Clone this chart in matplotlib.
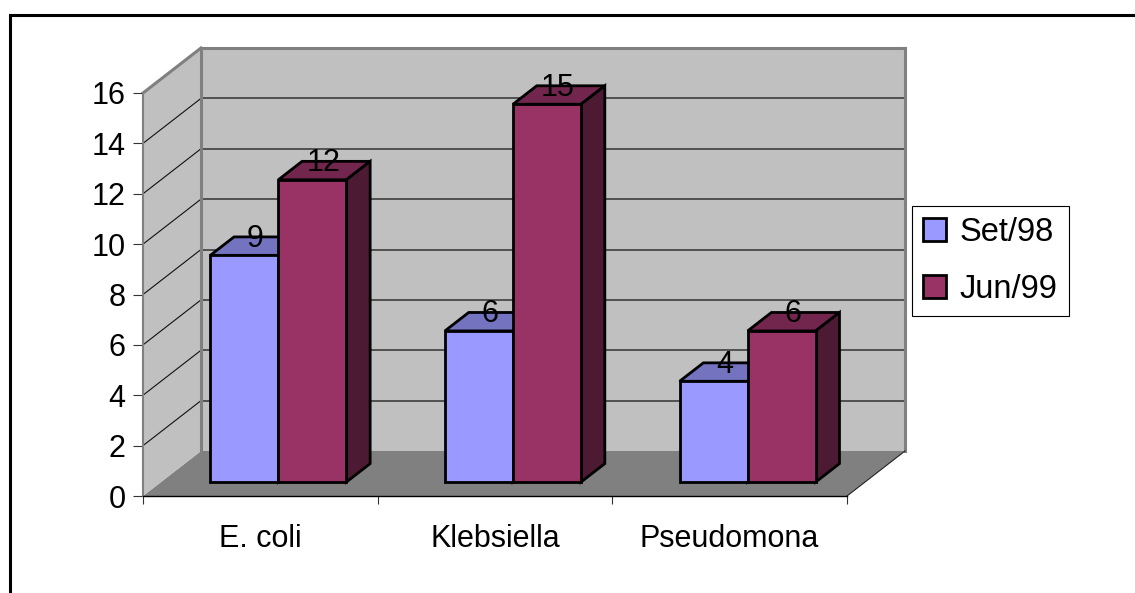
import matplotlib
matplotlib.use('Agg')
import matplotlib.pyplot as plt
from matplotlib.patches import Polygon, Patch
from matplotlib.lines import Line2D
from matplotlib.transforms import ScaledTranslation, IdentityTransform
import numpy as np

plt.rcParams['font.family'] = ['Liberation Sans', 'DejaVu Sans']

# ---- data ----
categories = ['E. coli', 'Klebsiella', 'Pseudomona']
series_names = ['Set/98', 'Jun/99']
set98 = [9, 6, 4]
jun99 = [12, 15, 6]
yticks = [0, 2, 4, 6, 8, 10, 12, 14, 16]

front_colors = ['#9999FF', '#993366']
top_colors = ['#7373BF', '#73264D']
side_colors = ['#4D4D80', '#4D1A33']

W, H = 1135, 593
DPI = 100
fig = plt.figure(figsize=(W / DPI, H / DPI), dpi=DPI)
fig.patch.set_facecolor('white')
ax = fig.add_axes([143 / W, 97 / H, 704 / W, 403 / H])
ax.set_xlim(-0.5, 2.5)
ax.set_ylim(0, 16)
ax.patch.set_visible(False)

DX, DY = 0.58, 0.45  # full depth offset (inches)
F0, F1 = 0.31, 0.72  # bar depth range
BW = 0.29            # bar width (category units)


def pt(x, y, f):
    p = ax.transData.transform((x, y))
    return (p[0] + DX * f * DPI, p[1] + DY * f * DPI)


def depth(f):
    return ax.transData + ScaledTranslation(DX * f, DY * f, fig.dpi_scale_trans)


def poly(points, fc, ec='none', lw=0, z=1):
    p = Polygon(points, closed=True, facecolor=fc, edgecolor=ec, linewidth=lw,
                transform=IdentityTransform(), zorder=z, clip_on=False,
                joinstyle='miter')
    ax.add_artist(p)
    return p


def line(p1, p2, color, lw, z=1):
    ax.add_artist(Line2D([p1[0], p2[0]], [p1[1], p2[1]], color=color, lw=lw,
                         transform=IdentityTransform(), zorder=z, clip_on=False,
                         solid_capstyle='projecting'))


x0, x1 = -0.5, 2.5
ymax = yticks[-1]

# floor, side wall, back wall
poly([pt(x0, 0, 0), pt(x1, 0, 0), pt(x1, 0, 1), pt(x0, 0, 1)], '#808080', z=0.1)
poly([pt(x0, 0, 0), pt(x0, 0, 1), pt(x0, ymax, 1), pt(x0, ymax, 0)], '#C0C0C0', z=0.1)
poly([pt(x0, 0, 1), pt(x1, 0, 1), pt(x1, ymax, 1), pt(x0, ymax, 1)], '#C0C0C0', z=0.1)

# gridlines
for v in yticks[1:-1]:
    line(pt(x0, v, 1), pt(x1, v, 1), '#333333', 1.1, z=0.3)
    line(pt(x0, v, 0), pt(x0, v, 1), '#111111', 0.8, z=0.3)

# wall edges
line(pt(x0, 0, 1), pt(x0, ymax, 1), '#808080', 2.2, z=0.4)
line(pt(x0, ymax, 1), pt(x1, ymax, 1), '#808080', 2.2, z=0.4)
line(pt(x1, ymax, 1), pt(x1, 0, 1), '#808080', 2.2, z=0.4)
line(pt(x0, ymax, 0), pt(x0, ymax, 1), '#808080', 2.2, z=0.4)
line(pt(x1, 0, 0), pt(x1, 0, 1), '#222222', 0.8, z=0.4)

# bars
for i in range(len(categories)):
    for j, vals in enumerate([set98, jun99]):
        v = vals[i]
        xl = i - BW + j * BW
        xr = xl + BW
        z = 2 + i * 0.1 + j * 0.05
        poly([pt(xl, v, F0), pt(xr, v, F0), pt(xr, v, F1), pt(xl, v, F1)],
             top_colors[j], 'black', 2.0, z)
        poly([pt(xr, 0, F0), pt(xr, 0, F1), pt(xr, v, F1), pt(xr, v, F0)],
             side_colors[j], 'black', 2.0, z)
        poly([pt(xl, 0, F0), pt(xr, 0, F0), pt(xr, v, F0), pt(xl, v, F0)],
             front_colors[j], 'black', 2.0, z)
        ax.text((xl + xr) / 2, v, str(v), transform=depth(0.5), ha='center',
                va='baseline', fontsize=22, color='black', zorder=5)

# axes
for s in ['top', 'right']:
    ax.spines[s].set_visible(False)
ax.spines['left'].set_color('#808080')
ax.spines['left'].set_linewidth(1.5)
ax.spines['bottom'].set_color('black')
ax.spines['bottom'].set_linewidth(1.0)
ax.set_yticks(yticks)
ax.set_yticklabels([str(t) for t in yticks])
ax.tick_params(axis='y', length=7.5, width=0.8, color='#333333', pad=5, labelsize=22)
ax.set_xticks(range(len(categories)))
ax.set_xticklabels(categories)
ax.set_xticks([x0 + k for k in range(len(categories) + 1)], minor=True)
ax.tick_params(axis='x', which='major', length=0, pad=20, labelsize=22)
ax.tick_params(axis='x', which='minor', length=6, width=0.8, color='#333333')

# legend
handles = [Patch(facecolor=c, edgecolor='black', linewidth=2) for c in front_colors]
leg = fig.legend(handles, series_names, loc='center left',
                 bbox_to_anchor=(912 / W, 1 - 261 / H), frameon=True, fancybox=False,
                 edgecolor='black', framealpha=1, fontsize=23.5, handlelength=0.7,
                 handleheight=0.7, handletextpad=0.4, labelspacing=0.8,
                 borderpad=0.35, borderaxespad=0)
leg.get_frame().set_linewidth(0.8)

# outer border (cropped chart area)
fig.add_artist(Line2D([10 / W, 10 / W, 1], [0, 1 - 15 / H, 1 - 15 / H],
                      transform=fig.transFigure, color='black', lw=2.2,
                      solid_joinstyle='miter'))

fig.savefig('out.png', dpi=DPI)
